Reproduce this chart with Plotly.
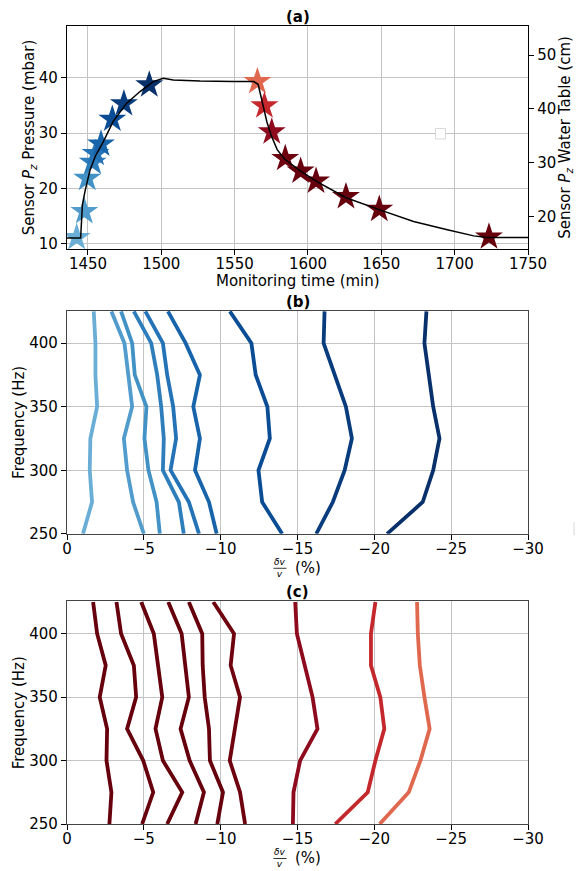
import plotly.graph_objects as go

# page body has an 8px margin; figure is sized so it ends at the window edge
OFF = 8
W, H = 583 - OFF, 871 - OFF

# ---------------- data ----------------
# panel (a): pressure time series
line_time = [1435.7, 1443.5, 1445.0, 1446.2, 1448.0, 1451.4, 1455.0, 1460.4, 1467.2, 1476.4,
             1485.5, 1494.5, 1501.3, 1508.2, 1526.4, 1549.1, 1563.0, 1566.0, 1569.0, 1572.0,
             1575.0, 1579.0, 1584.0, 1594.5, 1605.5, 1626.0, 1649.0, 1672.0, 1695.0, 1713.0,
             1722.0, 1750.0]
line_pressure = [11.0, 11.0, 11.0, 17.0, 19.5, 23.3, 25.8, 28.4, 32.1, 35.4,
                 37.5, 39.3, 39.9, 39.6, 39.4, 39.3, 39.3, 38.8, 35.5, 32.0,
                 29.5, 27.0, 25.3, 23.2, 21.3, 18.3, 16.1, 14.0, 12.5, 11.4,
                 11.1, 11.1]

# stars: rising (blue) and falling (red) measurement times
blue_time = [1442.3, 1447.5, 1449.5, 1453.2, 1455.2, 1458.9, 1466.6, 1474.5, 1491.8]
blue_pressure = [11.1, 15.8, 21.8, 24.7, 26.3, 28.0, 32.5, 35.3, 38.7]
red_time = [1565.5, 1570.3, 1575.3, 1584.5, 1595.0, 1605.5, 1625.9, 1648.6, 1723.4]
red_pressure = [39.3, 34.9, 30.2, 25.4, 23.1, 21.3, 18.5, 16.2, 11.2]

blue_colors = ["#6aaed6", "#519ccc", "#4292c6", "#2f7ebc", "#2373b6", "#1764ab",
               "#0b4d94", "#083c7d", "#08306b"]
red_colors = ["#e0684f", "#c4282d", "#8e0b1e", "#6e020f", "#67000d", "#67000d",
              "#67000d", "#67000d", "#67000d"]

# panels (b) and (c): dv/v vs frequency
freq = [250, 275, 300, 325, 350, 375, 400, 425]
dvv_b = [
    [-1.04, -1.63, -1.48, -1.52, -1.96, -1.85, -1.85, -1.74],
    [-5.00, -4.30, -3.91, -3.70, -4.24, -3.98, -3.74, -2.89],
    [-6.04, -5.83, -5.30, -5.04, -5.17, -4.41, -4.24, -3.52],
    [-7.60, -7.28, -6.24, -6.30, -6.13, -5.87, -5.48, -4.35],
    [-8.59, -7.93, -6.74, -7.10, -6.91, -6.52, -6.24, -5.10],
    [-9.74, -9.24, -8.33, -8.65, -8.22, -8.65, -7.72, -6.57],
    [-14.00, -12.70, -12.46, -13.20, -13.04, -12.28, -12.00, -10.60],
    [-16.22, -17.30, -18.07, -18.54, -18.15, -17.42, -16.70, -16.76],
    [-20.83, -23.15, -23.83, -24.24, -23.83, -23.55, -23.26, -23.39],
]
# panel (c), ordered like the red stars (first star -> largest change)
dvv_c = [
    [-20.35, -22.24, -23.00, -23.60, -23.26, -22.96, -22.83, -22.78],
    [-17.46, -19.57, -20.07, -20.65, -20.39, -19.78, -19.78, -20.07],
    [-14.70, -14.74, -15.17, -16.30, -15.98, -15.46, -14.96, -14.85],
    [-11.59, -11.26, -10.59, -10.93, -11.26, -10.65, -10.87, -9.52],
    [-9.78, -10.15, -9.30, -9.24, -8.96, -8.83, -8.80, -7.93],
    [-8.37, -8.91, -7.98, -7.39, -7.93, -7.67, -7.46, -6.59],
    [-6.52, -7.50, -6.24, -5.76, -6.20, -5.93, -5.65, -4.83],
    [-4.89, -5.61, -4.96, -3.91, -4.50, -4.35, -3.52, -3.22],
    [-2.76, -2.89, -2.57, -2.61, -2.13, -2.52, -1.96, -1.70],
]
dvv_ticks = [0, -5, -10, -15, -20, -25, -30]
time_ticks = [1450, 1500, 1550, 1600, 1650, 1700, 1750]
pressure_ticks = [10, 20, 30, 40]
table_ticks = [20, 30, 40, 50]
freq_ticks = [250, 300, 350, 400]

# ---------------- figure ----------------
FONT = "DejaVu Sans"
fig = go.Figure()

# panel (a)
fig.add_trace(go.Scatter(x=blue_time, y=blue_pressure, mode="markers",
                         marker=dict(symbol="star", size=21, color=blue_colors, line=dict(width=0)),
                         xaxis="x", yaxis="y", showlegend=False))
fig.add_trace(go.Scatter(x=red_time, y=red_pressure, mode="markers",
                         marker=dict(symbol="star", size=21, color=red_colors, line=dict(width=0)),
                         xaxis="x", yaxis="y", showlegend=False))
fig.add_trace(go.Scatter(x=line_time, y=line_pressure, mode="lines",
                         line=dict(color="black", width=1.5),
                         xaxis="x", yaxis="y", showlegend=False))
fig.add_trace(go.Scatter(x=[1500], y=[30], mode="markers", marker=dict(opacity=0),
                         xaxis="x", yaxis="y2", showlegend=False, hoverinfo="skip"))

# panel (b)
for vals, col in zip(dvv_b, blue_colors):
    fig.add_trace(go.Scatter(x=vals, y=freq, mode="lines", line=dict(color=col, width=3.8),
                             xaxis="x3", yaxis="y3", showlegend=False))
# panel (c)
for vals, col in zip(dvv_c, red_colors):
    fig.add_trace(go.Scatter(x=vals, y=freq, mode="lines", line=dict(color=col, width=3.8),
                             xaxis="x4", yaxis="y4", showlegend=False))

# plot-area edges in window pixels
LEFT, RIGHT, TOP, BOTTOM = 67, 528, 26, 824.3
ML, MR, MT, MB = LEFT - OFF, 583 - RIGHT, TOP - OFF, 871 - BOTTOM
IH = BOTTOM - TOP
IW = RIGHT - LEFT


def dom(top, bottom):
    return [(BOTTOM - bottom) / IH, (BOTTOM - top) / IH]


def px(x):
    return (x - LEFT) / IW


def py(y):
    return (BOTTOM - y) / IH


dom_a = dom(26, 249)
dom_b = dom(311, 534)
dom_c = dom(601.7, 824.3)

tickfont = dict(family=FONT, size=15, color="black")
titlefont = dict(family=FONT, size=15, color="black")
common = dict(zeroline=False, ticks="outside", ticklen=5, tickwidth=1.2, tickcolor="black",
              showline=True, linewidth=1.3, tickfont=tickfont, automargin=False)
grid = dict(showgrid=True, gridcolor="#c4c4c4", gridwidth=1, **common)

fig.update_layout(
    width=W, height=H, margin=dict(l=ML, r=MR, t=MT, b=MB, pad=0),
    paper_bgcolor="white", plot_bgcolor="white", showlegend=False,
    font=dict(family=FONT, size=15, color="black"),
    xaxis=dict(domain=[0, 1], anchor="y", range=[1435.7, 1750], tickvals=time_ticks,
               mirror=True, linecolor="black", ticklabelstandoff=-4, **grid),
    yaxis=dict(domain=dom_a, anchor="x", range=[9.04, 49.35], tickvals=pressure_ticks,
               mirror=True, linecolor="black",
               title=dict(text="Sensor <i>P</i><sub><i>z</i></sub> Pressure (mbar)",
                          font=titlefont, standoff=0), **grid),
    yaxis2=dict(overlaying="y", side="right", anchor="x", range=[14, 55.4],
                tickvals=table_ticks, showgrid=False, linecolor="black",
                title=dict(text="Sensor <i>P</i><sub><i>z</i></sub> Water Table (cm)",
                           font=titlefont, standoff=0), **common),
    xaxis3=dict(domain=[0, 1], anchor="y3", range=[0, -30], tickvals=dvv_ticks,
                mirror=True, linecolor="#444", ticklabelstandoff=-4, **grid),
    yaxis3=dict(domain=dom_b, anchor="x3", range=[250, 425.4], tickvals=freq_ticks,
                mirror=True, linecolor="#444",
                title=dict(text="Frequency (Hz)", font=titlefont, standoff=0), **grid),
    xaxis4=dict(domain=[0, 1], anchor="y4", range=[0, -30], tickvals=dvv_ticks,
                mirror=True, linecolor="#444", ticklabelstandoff=-4, **grid),
    yaxis4=dict(domain=dom_c, anchor="x4", range=[250, 425.4], tickvals=freq_ticks,
                mirror=True, linecolor="#444",
                title=dict(text="Frequency (Hz)", font=titlefont, standoff=0), **grid),
)

anns = []
for label, ycen in [("(a)", 17), ("(b)", 302.5), ("(c)", 592.5)]:
    anns.append(dict(text="<b>" + label + "</b>", x=0.5, y=py(ycen), xref="paper", yref="paper",
                     xanchor="center", yanchor="middle", showarrow=False,
                     font=dict(family=FONT, size=15, color="black")))
# x title of panel (a)
anns.append(dict(text="Monitoring time (min)", x=0.5, y=py(281), xref="paper", yref="paper",
                 xanchor="center", yanchor="middle", showarrow=False, font=titlefont))
# dv/v fraction labels for (b) and (c)
shapes = []
for ycen in [568.5, 858.8]:
    anns.append(dict(text="<i>δv</i><br><i>v</i>", x=px(280), y=py(ycen), xref="paper", yref="paper",
                     xanchor="center", yanchor="middle", showarrow=False, align="center",
                     font=dict(family=FONT, size=9, color="black")))
    anns.append(dict(text="(%)", x=px(293), y=py(ycen), xref="paper", yref="paper",
                     xanchor="left", yanchor="middle", showarrow=False,
                     font=dict(family=FONT, size=15, color="black")))
    shapes.append(dict(type="line", xref="paper", yref="paper",
                       x0=px(273.5), x1=px(286.5), y0=py(ycen), y1=py(ycen),
                       line=dict(color="black", width=0.8)))
# empty legend boxes
shapes.append(dict(type="rect", xref="paper", yref="paper", layer="above",
                   x0=px(435.5), x1=px(445.5), y0=py(139), y1=py(128.5),
                   fillcolor="white", line=dict(color="#d8d8d8", width=1)))
shapes.append(dict(type="rect", xref="paper", yref="paper", layer="above",
                   x0=px(574), x1=px(586), y0=py(535), y1=py(523),
                   fillcolor="white", line=dict(color="#d8d8d8", width=1)))
fig.update_layout(annotations=anns, shapes=shapes)

fig.write_html("out.html")
